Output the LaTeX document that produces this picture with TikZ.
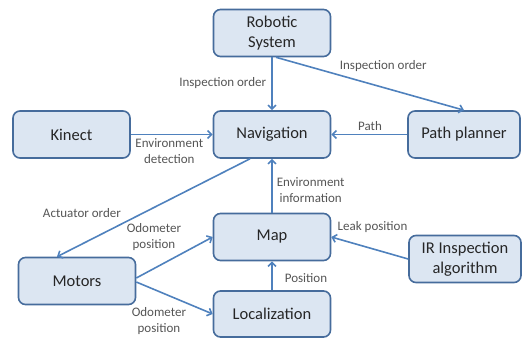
\documentclass[tikz,border=0pt]{standalone}
\usepackage{fontspec}
\setmainfont{Carlito}
\usetikzlibrary{arrows.meta, calc}
\definecolor{cBoxFill}{RGB}{220,230,242}
\definecolor{cBoxLine}{RGB}{70,108,156}
\definecolor{cArrow}{RGB}{79,129,189}
\definecolor{cText}{RGB}{38,38,38}
\definecolor{cLabel}{RGB}{85,85,85}
\tikzset{
	blk/.style ={rectangle, rounded corners=7pt, draw=cBoxLine, line width=1.6pt, fill=cBoxFill,
		minimum width=117pt, minimum height=47pt, align=center, text=cText,
		font=\fontsize{16.5}{19.5}\selectfont},
	sig/.style ={-{Straight Barb[length=4pt, width=8pt]}, cArrow, line width=1.6pt},
	lbl/.style ={text=cLabel, align=center, inner sep=1pt, font=\fontsize{13}{16}\selectfont},
}
\begin{document}
\begin{tikzpicture}[x=1pt, y=-1pt]
	\useasboundingbox (0,0) rectangle (522,340);
	% blocks
	\node[blk] (rob) at (272,33) {Robotic\\System};
	\node[blk] (nav) at (272,134.5) {Navigation};
	\node[blk] (kin) at (71.5,134.5) {Kinect};
	\node[blk, minimum width=112pt] (pp) at (464,134.5) {Path planner};
	\node[blk] (mot) at (77,281) {Motors};
	\node[blk] (map) at (272,237) {Map};
	\node[blk, minimum height=46pt] (loc) at (272,314) {Localization};
	\node[blk, minimum width=112pt] (ir) at (465,259) {IR Inspection\\algorithm};
	% connectors
	\draw[sig] (rob) -- (nav) node[lbl, pos=0.48, anchor=east, xshift=-4pt] {Inspection order};
	\draw[sig] ($(rob.south)+(4,0)$) -- (pp.north) node[lbl, pos=0.33, anchor=south west, yshift=1pt] {Inspection order};
	\draw[sig] (pp) -- (nav) node[lbl, pos=0.49, above=2pt] {Path};
	\draw[sig] (kin) -- (nav) node[lbl, pos=0.47, below=2pt] {Environment\\detection};
	\draw[sig] ($(nav.south)+(-22,0)$) -- ($(mot.north)+(-20,0)$) node[lbl, pos=0.556, anchor=east, xshift=-20pt] {Actuator order};
	\draw[sig] (map) -- (nav) node[lbl, pos=0.42, anchor=west, xshift=3pt] {Environment\\information};
	\draw[sig] ($(mot.east)+(0,-3)$) -- (map.west) node[lbl, pos=0.61, anchor=south east, yshift=1pt] {Odometer\\position};
	\draw[sig] ($(mot.east)+(0,1)$) -- (loc.west) node[lbl, pos=0.675, anchor=north east, yshift=-2pt] {Odometer\\position};
	\draw[sig] (loc) -- (map) node[lbl, pos=0.43, anchor=west, xshift=11pt] {Position};
	\draw[sig] (ir.west) -- (map.east) node[lbl, pos=0.94, anchor=south west, yshift=4pt] {Leak position};
\end{tikzpicture}
\end{document}
